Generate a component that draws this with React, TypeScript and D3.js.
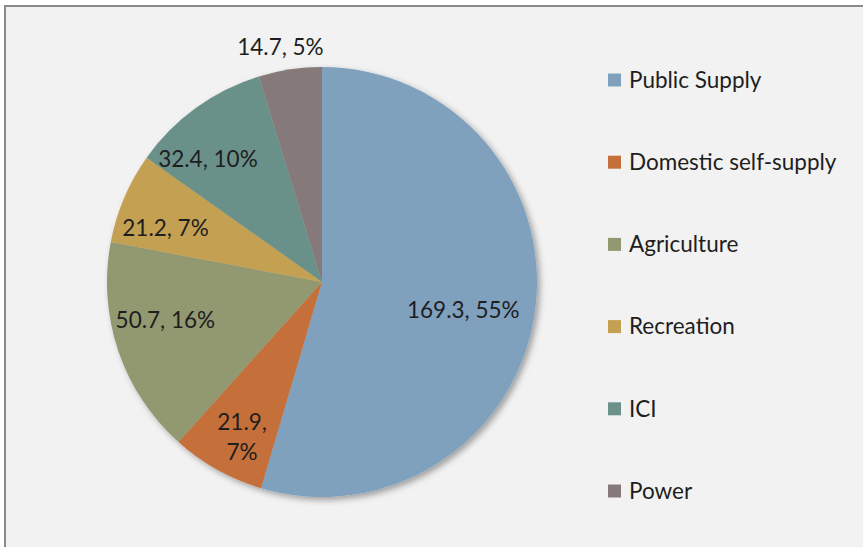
import React from 'react';
import * as d3 from 'd3';

// water use by sector
const categories = ['Public Supply', 'Domestic self-supply', 'Agriculture', 'Recreation', 'ICI', 'Power'];
const values = [169.3, 21.9, 50.7, 21.2, 32.4, 14.7];
const percentLabels = ['55%', '7%', '16%', '7%', '10%', '5%'];
const colors = ['#7fa1be', '#c5703b', '#929870', '#c4a052', '#6b9189', '#857a79'];

// label placement: distance from centre as a fraction of the radius, extra angle (deg), wrap onto two lines
const labelLayout = [
  { r: 0.67, da: 3, wrap: false },
  { r: 0.8, da: -1.5, wrap: true },
  { r: 0.75, da: 5, wrap: false },
  { r: 0.77, da: -4, wrap: false },
  { r: 0.78, da: -7, wrap: false },
  { r: 1.11, da: -1.5, wrap: false },
];

const W = 863;
const H = 547;
const cx = 322;
const cy = 282;
const R = 215;
const FONT = 'Lato, "Open Sans", sans-serif';
const FS = 22.5;

const App: React.FC = () => {
  const pie = d3.pie<number>().sort(null).value(d => d)(values);
  const arc = d3.arc<d3.PieArcDatum<number>>().innerRadius(0).outerRadius(R);

  const legendY = d3.scalePoint<string>().domain(categories).range([80, 491]);

  return (
    <svg width={W} height={H} style={{ position: 'absolute', left: 0, top: 0, background: '#fff' }}>
      <defs>
        <filter id="shadow" x="-20%" y="-20%" width="140%" height="140%">
          <feDropShadow dx="3" dy="3" stdDeviation="3" floodColor="#000" floodOpacity="0.35" />
        </filter>
      </defs>
      <rect x={5} y={6} width={W + 20} height={H + 20} fill="#f2f2f2" stroke="#8a8a8a" strokeWidth={2} />

      <g transform={`translate(${cx},${cy})`}>
        <g filter="url(#shadow)">
          {pie.map((d, i) => (
            <path key={categories[i]} d={arc(d) || ''} fill={colors[i]} />
          ))}
        </g>
        {pie.map((d, i) => {
          const lay = labelLayout[i];
          const a = (d.startAngle + d.endAngle) / 2 + (lay.da * Math.PI) / 180;
          const x = Math.sin(a) * R * lay.r;
          const y = -Math.cos(a) * R * lay.r;
          const v = values[i].toFixed(1);
          return (
            <text
              key={categories[i]}
              x={x}
              y={y}
              textAnchor="middle"
              fontFamily={FONT}
              fontSize={FS}
              fill="#1e1e1e"
            >
              {lay.wrap ? (
                <>
                  <tspan x={x} dy="-0.2em">{`${v},`}</tspan>
                  <tspan x={x} dy="1.35em">{percentLabels[i]}</tspan>
                </>
              ) : (
                <tspan dy="0.35em">{`${v}, ${percentLabels[i]}`}</tspan>
              )}
            </text>
          );
        })}
      </g>

      <g>
        {categories.map((c, i) => (
          <g key={c} transform={`translate(608,${legendY(c)})`}>
            <rect x={0} y={-6.5} width={13} height={13} fill={colors[i]} />
            <text x={21} y={0} dy="0.35em" fontFamily={FONT} fontSize={FS} fill="#1e1e1e">
              {c}
            </text>
          </g>
        ))}
      </g>
    </svg>
  );
};

export default App;
